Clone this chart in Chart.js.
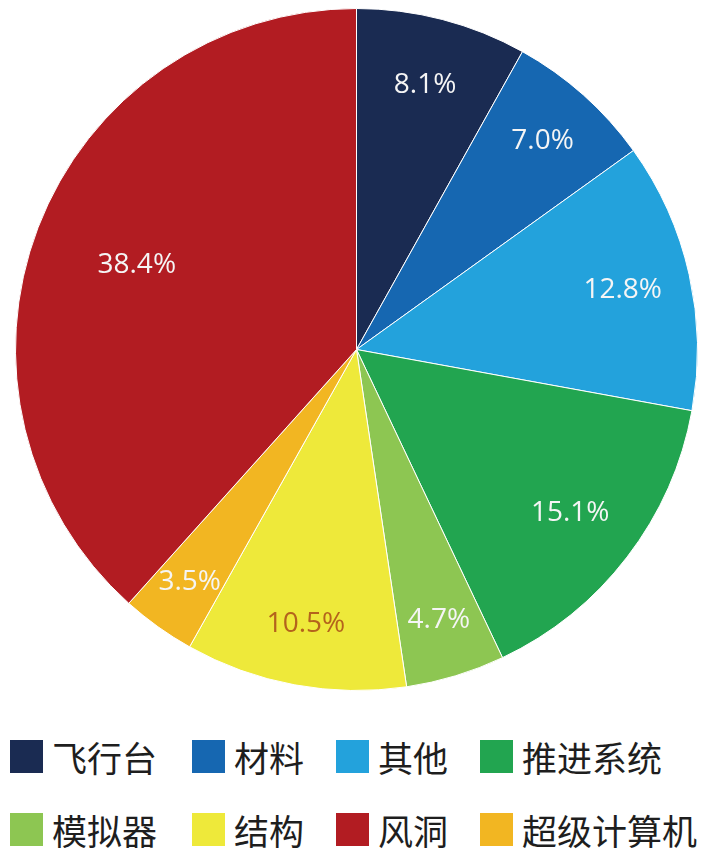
<!DOCTYPE html>
<html>
<head>
<meta charset="utf-8">
<script src="https://cdn.jsdelivr.net/npm/chart.js@4"></script>
<style>
  html, body { margin: 0; padding: 0; background: #fff; }
  body { width: 705px; height: 860px; position: relative; overflow: hidden; }
  #pieBox { position: absolute; left: 15px; top: 8px; width: 683px; height: 683px; }
  #legend { position: absolute; left: 0; top: 740px; width: 705px; height: 110px; }
  .lg-item { position: absolute; height: 33px; display: flex; align-items: center; }
  .lg-box { width: 33px; height: 33px; flex: none; }
  .lg-text { margin-left: 9px; font-family: "Noto Sans CJK SC", sans-serif; font-size: 35px; color: #1e1e1e; line-height: 33px; white-space: nowrap; }
</style>
</head>
<body>
<div id="pieBox"><canvas id="pie"></canvas></div>
<div id="legend"></div>
<script>
(function () {
  'use strict';

  // 数据（按饼图顺时针顺序，从12点开始）
  const categories = ['飞行台', '材料', '其他', '推进系统', '模拟器', '结构', '超级计算机', '风洞'];
  const shares = [8.1, 7.0, 12.8, 15.1, 4.7, 10.5, 3.5, 38.4];
  const sliceColors = ['#1a2b52', '#1667b1', '#23a2dc', '#22a550', '#8dc652', '#eee93a', '#f2b622', '#b21c22'];
  // 图例顺序
  const legendOrder = ['飞行台', '材料', '其他', '推进系统', '模拟器', '结构', '风洞', '超级计算机'];

  // 标签位置（占半径比例）和颜色
  const labelRadius = [0.80, 0.82, 0.80, 0.79, 0.83, 0.82, 0.84, 0.69];
  const labelColors = ['#f5f5f5', '#f5f5f5', '#f5f5f5', '#f5f5f5', '#f5f5f5', '#b4631c', '#f5f5f5', '#f5f5f5'];

  const pctLabelPlugin = {
    id: 'pctLabelPlugin',
    afterDatasetsDraw(chart) {
      const { ctx } = chart;
      const meta = chart.getDatasetMeta(0);
      ctx.save();
      ctx.font = '28px "Open Sans", "DejaVu Sans", sans-serif';
      ctx.textAlign = 'center';
      ctx.textBaseline = 'middle';
      meta.data.forEach((arc, i) => {
        const p = arc.getProps(['x', 'y', 'startAngle', 'endAngle', 'outerRadius'], true);
        const mid = (p.startAngle + p.endAngle) / 2;
        const r = p.outerRadius * labelRadius[i];
        ctx.fillStyle = labelColors[i];
        ctx.fillText(shares[i].toFixed(1) + '%', p.x + Math.cos(mid) * r, p.y + Math.sin(mid) * r);
      });
      ctx.restore();
    }
  };

  const chart = new Chart(document.getElementById('pie'), {
    type: 'pie',
    data: {
      labels: categories,
      datasets: [{
        data: shares,
        backgroundColor: sliceColors,
        borderColor: '#ffffff',
        borderWidth: 1
      }]
    },
    options: {
      responsive: true,
      maintainAspectRatio: false,
      animation: false,
      layout: { padding: 0 },
      plugins: {
        legend: { display: false },
        tooltip: { enabled: false }
      }
    },
    plugins: [pctLabelPlugin]
  });

  // HTML 图例，两行四列
  const colX = [10, 192, 336, 480];
  const rowY = [0, 73];
  const legendEl = document.getElementById('legend');
  const items = Chart.overrides.pie.plugins.legend.labels.generateLabels(chart);
  legendOrder.forEach((name, k) => {
    const it = items.find(x => x.text === name);
    if (!it) return;
    const div = document.createElement('div');
    div.className = 'lg-item';
    div.style.left = colX[k % 4] + 'px';
    div.style.top = rowY[Math.floor(k / 4)] + 'px';
    div.innerHTML = `<span class="lg-box" style="background:${it.fillStyle}"></span><span class="lg-text">${it.text}</span>`;
    legendEl.appendChild(div);
  });
})();
</script>
</body>
</html>
